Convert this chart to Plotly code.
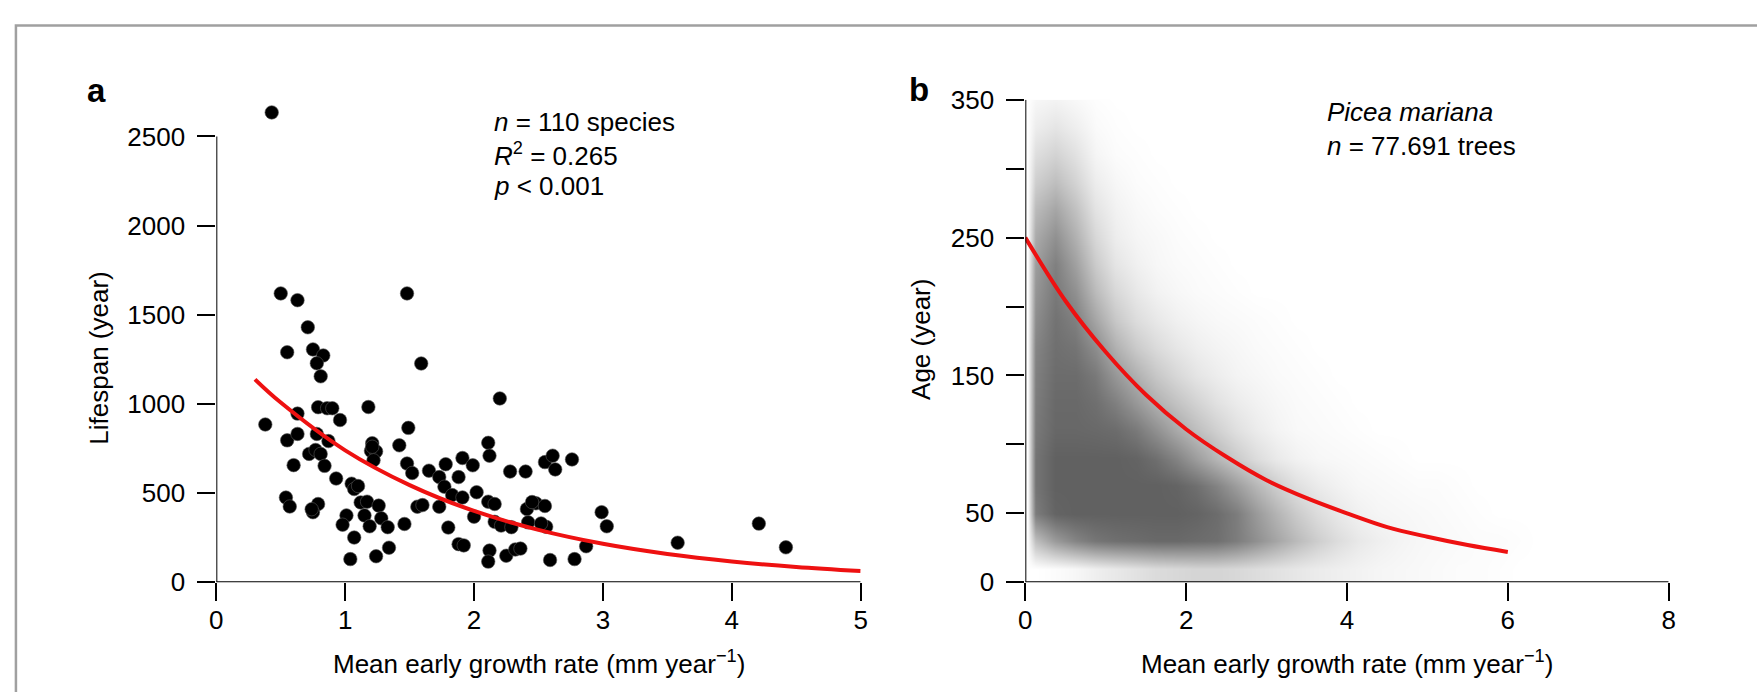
import plotly.graph_objects as go

# ---------------- data: panel a (species) ----------------
growth_a = [0.43, 0.50, 0.63, 0.71, 0.55, 0.75, 0.83, 0.78, 0.81, 1.48,
            1.59, 2.20, 0.38, 0.63, 0.79, 0.86, 0.90, 0.96, 1.18, 1.49,
            0.55, 0.63, 0.78, 0.87, 1.21, 1.42, 2.11, 2.12, 0.72, 0.77,
            0.81, 1.20, 1.24, 1.22, 0.60, 0.84, 1.48, 1.52, 1.65, 1.73,
            1.78, 1.77, 1.88, 1.91, 1.99, 2.02, 1.83, 1.91, 0.93, 1.05,
            1.07, 0.54, 0.57, 0.79, 0.75, 1.12, 1.17, 1.26, 1.56, 1.60,
            1.73, 2.00, 1.01, 0.98, 1.15, 1.28, 1.19, 1.33, 1.46, 1.80,
            1.07, 1.34, 1.24, 1.04, 1.88, 1.92, 2.28, 2.40, 2.55, 2.61,
            2.63, 2.76, 2.11, 2.16, 2.41, 2.48, 2.55, 2.16, 2.21, 2.29,
            2.42, 2.56, 2.99, 3.03, 2.12, 2.11, 2.25, 2.32, 2.36, 2.59,
            2.78, 2.87, 3.58, 4.21, 4.42, 1.21, 2.45, 1.10, 2.52, 0.74]
lifespan_a = [2635, 1620, 1582, 1430, 1290, 1306, 1272, 1228, 1155, 1620,
              1227, 1031, 885, 946, 982, 976, 976, 910, 983, 866,
              796, 832, 832, 792, 780, 768, 782, 710, 720, 742,
              720, 737, 734, 684, 657, 653, 666, 613, 626, 590,
              662, 536, 590, 697, 656, 505, 489, 476, 582, 553,
              523, 475, 425, 439, 393, 448, 452, 430, 424, 433,
              424, 368, 375, 323, 375, 359, 314, 309, 327, 307,
              251, 194, 146, 130, 214, 207, 621, 621, 674, 710,
              633, 689, 452, 439, 411, 443, 428, 339, 318, 309,
              336, 311, 393, 314, 178, 116, 149, 184, 189, 125,
              130, 202, 222, 329, 196, 760, 450, 540, 330, 410]

fit_a_x = [0.3, 0.5, 1.0, 1.5, 2.0, 2.5, 3.0, 3.5, 4.0, 4.5, 5.0]
fit_a_y = [1138, 1008, 740, 545, 400, 294, 216, 159, 117, 86, 63]

# ---------------- data: panel b (Picea mariana) ----------------
fit_b_x = [0, 0.5, 1.0, 1.5, 2.0, 2.5, 3.0, 3.5, 4.0, 4.5, 5.0, 5.5, 6.0]
fit_b_y = [250, 204, 167, 136, 111, 91, 74, 61, 50, 40, 33, 27, 22]

# point-cloud density (0 = none, 1 = darkest)
density_x = [0.03, 0.125, 0.375, 0.625, 0.875, 1.125, 1.375, 1.625, 1.875, 2.125,
             2.375, 2.625, 2.875, 3.125, 3.375, 3.625, 3.875, 4.125, 4.375,
             4.625, 4.875, 5.125, 5.375, 5.625, 5.875, 6.125, 6.375]
density_y = [10, 30, 50, 70, 90, 110, 130, 150, 170, 190, 210, 230, 250,
             270, 290, 310, 330, 350]
density_rows = [
    [0.00, 0.00, 0.02, 0.05, 0.10, 0.14, 0.18, 0.22, 0.24, 0.26, 0.26, 0.24, 0.21, 0.18, 0.15, 0.12, 0.10, 0.08, 0.06, 0.05, 0.04, 0.03, 0.02, 0.02, 0.01],
    [0.00, 0.40, 0.62, 0.75, 0.84, 0.88, 0.90, 0.92, 0.92, 0.90, 0.88, 0.80, 0.68, 0.55, 0.42, 0.30, 0.21, 0.14, 0.10, 0.07, 0.05, 0.04, 0.03, 0.02, 0.02, 0.01],
    [0.00, 0.80, 0.95, 0.97, 0.97, 0.97, 0.97, 0.97, 0.97, 0.95, 0.90, 0.80, 0.62, 0.46, 0.32, 0.21, 0.14, 0.09, 0.06, 0.05, 0.04, 0.03, 0.02, 0.01],
    [0.00, 0.85, 0.97, 0.97, 0.97, 0.97, 0.97, 0.97, 0.95, 0.88, 0.76, 0.60, 0.44, 0.30, 0.19, 0.12, 0.08, 0.05, 0.04, 0.03, 0.02, 0.02, 0.01],
    [0.00, 0.85, 0.97, 0.97, 0.97, 0.97, 0.95, 0.88, 0.76, 0.60, 0.45, 0.32, 0.21, 0.13, 0.08, 0.05, 0.04, 0.03, 0.02, 0.01],
    [0.00, 0.82, 0.93, 0.93, 0.92, 0.90, 0.82, 0.68, 0.53, 0.40, 0.29, 0.19, 0.12, 0.07, 0.04, 0.03, 0.02, 0.01],
    [0.00, 0.80, 0.92, 0.92, 0.88, 0.78, 0.63, 0.48, 0.37, 0.27, 0.18, 0.12, 0.08, 0.05, 0.03, 0.02, 0.01],
    [0.00, 0.78, 0.90, 0.90, 0.82, 0.64, 0.48, 0.34, 0.24, 0.16, 0.11, 0.07, 0.05, 0.03, 0.02, 0.01],
    [0.00, 0.75, 0.88, 0.85, 0.70, 0.48, 0.32, 0.22, 0.15, 0.10, 0.07, 0.05, 0.03, 0.02, 0.01],
    [0.00, 0.70, 0.86, 0.78, 0.55, 0.34, 0.21, 0.14, 0.09, 0.06, 0.04, 0.03, 0.02, 0.01],
    [0.00, 0.65, 0.82, 0.68, 0.42, 0.24, 0.14, 0.08, 0.05, 0.03, 0.02, 0.01],
    [0.00, 0.60, 0.78, 0.58, 0.32, 0.16, 0.09, 0.05, 0.03, 0.02, 0.01],
    [0.00, 0.52, 0.68, 0.48, 0.24, 0.11, 0.06, 0.04, 0.02, 0.01],
    [0.00, 0.42, 0.55, 0.38, 0.17, 0.08, 0.04, 0.02, 0.01],
    [0.00, 0.30, 0.40, 0.27, 0.11, 0.05, 0.02, 0.01],
    [0.00, 0.20, 0.27, 0.18, 0.06, 0.02, 0.01],
    [0.00, 0.11, 0.16, 0.10, 0.03, 0.01],
    [0.00, 0.05, 0.07, 0.04, 0.01],
]

ticks_a_x = [0, 1, 2, 3, 4, 5]
ticks_a_y = [0, 500, 1000, 1500, 2000, 2500]
ticks_b_x = [0, 2, 4, 6, 8]
ticks_b_y = [0, 50, 150, 250, 350]
ticks_b_y_unlabelled = [100, 200, 300]

# ---------------- figure ----------------
W, H = 1757, 692
FONT = "Liberation Sans, Arial, Helvetica, sans-serif"


def px(v):
    """page pixel x -> paper fraction"""
    return v / W


def py(v):
    """page pixel y (from top) -> paper fraction"""
    return (H - v) / H


z = [row + [0.0] * (len(density_x) - len(row)) for row in density_rows]

fig = go.Figure()

fig.add_trace(go.Heatmap(
    x=density_x, y=density_y, z=z, xaxis="x2", yaxis="y2",
    zmin=0, zmax=1, zsmooth="best", showscale=False, hoverinfo="skip",
    colorscale=[[0, "#ffffff"], [1, "#5c5c5c"]],
))

fig.add_trace(go.Scatter(
    x=growth_a, y=lifespan_a, mode="markers", xaxis="x", yaxis="y",
    marker=dict(size=13.5, color="black", line=dict(width=0.6, color="#555555")),
    cliponaxis=False, showlegend=False, hoverinfo="skip",
))
fig.add_trace(go.Scatter(
    x=fit_a_x, y=fit_a_y, mode="lines", xaxis="x", yaxis="y",
    line=dict(color="#ee1111", width=4, shape="spline"),
    cliponaxis=False, showlegend=False, hoverinfo="skip",
))
fig.add_trace(go.Scatter(
    x=fit_b_x, y=fit_b_y, mode="lines", xaxis="x2", yaxis="y2",
    line=dict(color="#ee1111", width=4, shape="spline"),
    cliponaxis=False, showlegend=False, hoverinfo="skip",
))

axis_common = dict(
    showgrid=False, zeroline=False, showline=False,
    ticks="outside", ticklen=18, tickwidth=2, tickcolor="black",
    tickfont=dict(family=FONT, size=26, color="black"),
    fixedrange=True,
)

fig.update_layout(
    width=W, height=H, autosize=False,
    margin=dict(l=0, r=0, t=0, b=0, pad=0),
    paper_bgcolor="white", plot_bgcolor="white",
    showlegend=False,
    font=dict(family=FONT, size=26, color="black"),
    xaxis=dict(domain=[px(211), px(860.5)], range=[0, 5], tickvals=ticks_a_x,
               anchor="y", ticklabelstandoff=-3, **axis_common),
    yaxis=dict(domain=[py(593), py(80.4)], range=[0, 2750], tickvals=ticks_a_y,
               anchor="x", ticklabelstandoff=7, **axis_common),
    xaxis2=dict(domain=[px(1026.5), px(1675)], range=[0, 8], tickvals=ticks_b_x,
                anchor="y2", ticklabelstandoff=-3, **axis_common),
    yaxis2=dict(domain=[py(593), py(88.5)], range=[0, 350], tickvals=ticks_b_y,
                anchor="x2", ticklabelstandoff=7,
                minor=dict(tickvals=ticks_b_y_unlabelled, ticks="outside", ticklen=18,
                           tickwidth=2, tickcolor="black", showgrid=False),
                **axis_common),
)

line_style = dict(color="black", width=2)
shapes = [
    # panel a axes
    dict(type="line", xref="x", yref="y", x0=0, x1=5, y0=0, y1=0, line=line_style, layer="above"),
    dict(type="line", xref="x", yref="y", x0=0, x1=0, y0=0, y1=2500, line=line_style, layer="above"),
    # panel b axes
    dict(type="line", xref="x2", yref="y2", x0=0, x1=8, y0=0, y1=0, line=line_style, layer="above"),
    dict(type="line", xref="x2", yref="y2", x0=0, x1=0, y0=0, y1=350, line=line_style, layer="above"),
    # outer frame (open to the right and bottom, as in the source)
    dict(type="rect", xref="paper", yref="paper", x0=px(9), x1=px(W + 30), y0=py(H + 30), y1=py(11),
         line=dict(color="#a0a0a0", width=2.5), fillcolor="rgba(0,0,0,0)", layer="above"),
]
fig.update_layout(shapes=shapes)


def ann(text, x, y, size=26, xanchor="left", yanchor="middle", angle=0):
    return dict(text=text, x=px(x), y=py(y), xref="paper", yref="paper",
                xanchor=xanchor, yanchor=yanchor, showarrow=False, textangle=angle,
                font=dict(family=FONT, size=size, color="black"))


annotations = [
    ann("<b>a</b>", 90, 79, size=33, xanchor="center"),
    ann("<b>b</b>", 919, 78, size=33, xanchor="center"),
    ann("<i>n</i> = 110 species", 489, 112),
    ann("<i>R</i><sup>2</sup> = 0.265", 489, 146),
    ann("<i>p</i> < 0.001", 489, 179),
    ann("<i>Picea mariana</i>", 1329, 101),
    ann("<i>n</i> = 77.691 trees", 1329, 137),
    ann("Lifespan (year)", 93, 359, xanchor="center", angle=-90),
    ann("Age (year)", 922, 339, xanchor="center", angle=-90),
    ann("Mean early growth rate (mm year<sup>−1</sup>)", 536, 677, xanchor="center"),
    ann("Mean early growth rate (mm year<sup>−1</sup>)", 1351, 677, xanchor="center"),
]
fig.update_layout(annotations=annotations)

# the page itself should have no margin so the figure fills the window exactly
page_fix = ("document.documentElement.style.margin='0';document.documentElement.style.padding='0';"
            "document.body.style.margin='0';document.body.style.padding='0';"
            "document.body.style.overflow='hidden';")
fig.write_html("out.html", post_script=page_fix, config={"displayModeBar": False})
